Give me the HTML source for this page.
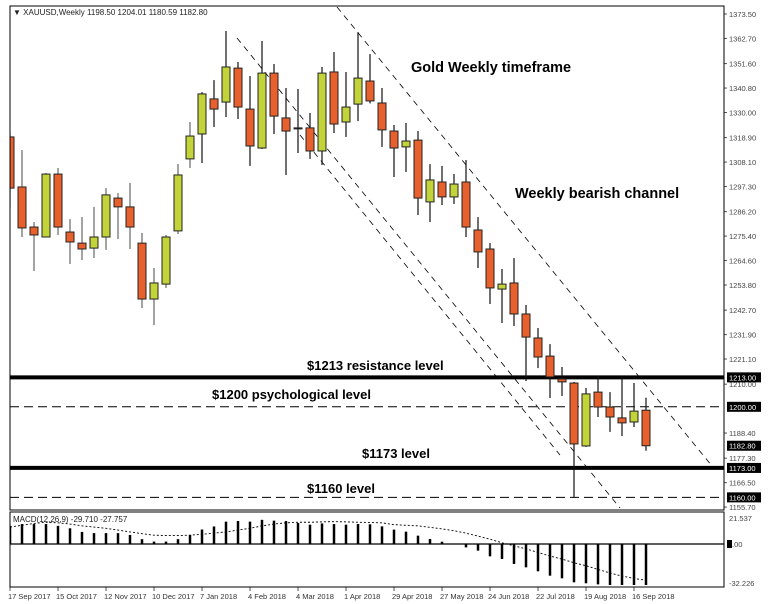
<!DOCTYPE html>
<html><head><meta charset="utf-8"><style>
html,body{margin:0;padding:0;background:#fff;width:770px;height:604px;overflow:hidden}
svg{display:block;font-family:"Liberation Sans",Arial,sans-serif}
</style></head><body>
<svg id="chart" width="770" height="604" viewBox="0 0 770 604" xmlns="http://www.w3.org/2000/svg">
<rect x="0" y="0" width="770" height="604" fill="#fff"/>
<defs><clipPath id="pclip"><rect x="10" y="6" width="714" height="504"/></clipPath><clipPath id="mclip"><rect x="10" y="512" width="714" height="75"/></clipPath></defs>
<g id="grid"></g>
<g id="price" clip-path="url(#pclip)"></g>
<g id="macd" clip-path="url(#mclip)"></g>
<g id="axes"></g>
<rect x="10" y="6" width="714" height="504" fill="none" stroke="#000" stroke-width="1"/>
<rect x="10" y="512" width="714" height="75" fill="none" stroke="#000" stroke-width="1"/>
<text x="13" y="15" font-size="8" fill="#222">▼ XAUUSD,Weekly  1198.50 1204.01 1180.59 1182.80</text>
<text x="13" y="522" font-size="8" fill="#222">MACD(12,26,9) -29.710 -27.757</text>
<text x="411" y="72" font-size="14.5" font-weight="bold" fill="#000">Gold Weekly timeframe</text>
<text x="515" y="198" font-size="14.5" font-weight="bold" fill="#000">Weekly bearish channel</text>
<text x="307" y="370" font-size="13" font-weight="bold" fill="#000">$1213 resistance level</text>
<text x="212" y="399" font-size="13" font-weight="bold" fill="#000">$1200 psychological level</text>
<text x="362" y="458" font-size="13" font-weight="bold" fill="#000">$1173 level</text>
<text x="307" y="493" font-size="13" font-weight="bold" fill="#000">$1160 level</text>
</svg>
<script>
const opens=[1319.2,1297.1,1279.4,1275.0,1302.8,1277.2,1272.3,1270.1,1275.0,1292.2,1288.3,1272.3,1247.6,1254.2,1277.7,1309.5,1320.5,1336.0,1334.6,1349.6,1331.5,1314.3,1347.4,1327.6,1323.2,1323.2,1313.0,1347.9,1325.8,1333.7,1343.9,1334.2,1321.8,1314.8,1317.8,1290.5,1299.3,1292.7,1299.3,1278.1,1269.7,1252.0,1254.7,1241.0,1230.4,1222.4,1212.3,1210.5,1182.7,1206.5,1199.9,1195.1,1193.3,1198.50];
const highs=[1321.4,1313.4,1281.6,1303.3,1305.5,1282.9,1283.8,1288.3,1296.6,1294.4,1298.9,1276.8,1261.3,1275.9,1307.2,1325.8,1339.0,1344.3,1366.0,1352.3,1346.1,1361.6,1351.4,1340.8,1340.4,1329.8,1350.1,1356.7,1347.9,1365.5,1355.8,1340.8,1324.5,1325.4,1321.8,1307.2,1306.4,1302.8,1309.0,1283.8,1272.3,1260.9,1265.7,1245.0,1234.8,1227.7,1217.6,1211.0,1208.3,1213.6,1206.5,1213.2,1210.5,1204.01];
const lows=[1287.8,1275.0,1260.0,1274.8,1275.9,1263.1,1264.8,1265.7,1269.3,1274.1,1269.7,1243.6,1236.1,1252.5,1276.3,1305.5,1307.7,1323.6,1328.0,1327.1,1306.4,1313.9,1320.5,1302.4,1312.1,1309.5,1306.8,1320.9,1319.2,1326.2,1334.0,1314.8,1301.5,1303.7,1284.7,1281.6,1289.1,1289.6,1275.0,1261.3,1245.4,1237.0,1235.7,1211.4,1217.1,1203.9,1204.8,1160.0,1182.3,1195.5,1188.9,1187.1,1191.1,1180.59];
const closes=[1296.6,1279.0,1275.9,1302.8,1279.4,1272.8,1269.7,1275.0,1293.6,1288.3,1279.4,1247.6,1254.7,1275.0,1302.4,1319.6,1338.2,1331.5,1350.1,1332.4,1315.2,1347.4,1328.4,1321.8,1323.0,1313.0,1347.4,1324.9,1332.4,1345.2,1335.1,1322.3,1314.3,1317.4,1292.2,1300.2,1292.7,1298.4,1279.4,1268.4,1252.5,1254.2,1241.0,1230.8,1222.0,1213.2,1211.0,1183.6,1205.7,1199.9,1195.5,1192.9,1198.1,1182.80];
const macdHist=[15,16.5,16.5,16.5,15,13,10,9,9,9,7.5,4,2,2,4,7.5,12,14.5,18.5,19,18.5,20,19.3,19,17.4,16,17,16.5,16,16.5,16.3,14.6,11.9,10.2,6.9,4.1,1.9,0,-2.8,-5.5,-10.2,-12.4,-16.5,-19.3,-22.6,-26.2,-28.4,-31.7,-32.5,-33.4,-33.9,-33.9,-33.9,-33.9];
const macdSignal=[14,15.5,17,18,17.5,16.5,15,14,13,11.5,10,8.5,7.3,7,7,7.3,8,9,10,11.5,13,15,16.5,17.5,18,18,18.3,18.5,18.3,18,17.8,17.5,16,15.5,15,13.8,12.5,11,9,6.5,4,1,-1.5,-4,-7,-10,-12.5,-15.5,-18,-21,-24,-26.5,-28.5,-30];
const priceTicks=[1373.50,1362.70,1351.60,1340.80,1330.00,1318.90,1308.10,1297.30,1286.20,1275.40,1264.60,1253.80,1242.70,1231.90,1221.10,1210.00,1188.40,1177.30,1166.50,1155.70];
const markedLevels=[1213.00,1200.00,1182.80,1173.00,1160.00];
const dateLabels=["17 Sep 2017","15 Oct 2017","12 Nov 2017","10 Dec 2017","7 Jan 2018","4 Feb 2018","4 Mar 2018","1 Apr 2018","29 Apr 2018","27 May 2018","24 Jun 2018","22 Jul 2018","19 Aug 2018","16 Sep 2018"];
const macdTicks=[21.537,-32.226];

const NS="http://www.w3.org/2000/svg";
const xOf=i=>10+12*i;
const yP=p=>14+(1373.5-p)*2.264;
const yM=v=>544-v*1.209;
function mk(tag,parent,attrs){const e=document.createElementNS(NS,tag);for(const k in attrs)e.setAttribute(k,attrs[k]);parent.appendChild(e);return e;}
const price=document.getElementById('price'),macd=document.getElementById('macd'),axes=document.getElementById('axes');

// horizontal levels
[[1213,4,null,'resistance-line-1213'],[1173,4,null,'support-line-1173'],[1200,1,'9,5','psychological-line-1200'],[1160,1,'9,5','level-line-1160']].forEach(l=>{
 const e=mk('line',price,{x1:10,x2:724,y1:yP(l[0]),y2:yP(l[0]),stroke:'#000','stroke-width':l[1]});
 if(l[2])e.setAttribute('stroke-dasharray',l[2]);
 
 
});
// channel lines
[[337,7,712,466,'channel-upper-line'],[237,38,620,508,'channel-lower-line'],[300,135,560,455,'channel-inner-line']].forEach(c=>{
 const e=mk('line',price,{x1:c[0],y1:c[1],x2:c[2],y2:c[3],stroke:'#000','stroke-width':0.8,'stroke-dasharray':'6,5'});
 
 
});
// candles
for(let i=0;i<opens.length;i++){
 const x=xOf(i),up=closes[i]>=opens[i];
 const w=mk('line',price,{x1:x,x2:x,y1:yP(highs[i]),y2:yP(lows[i]),stroke:i<16?'#666':'#111','stroke-width':1.2});
 
 
 const top=yP(Math.max(opens[i],closes[i])),bot=yP(Math.min(opens[i],closes[i]));
 const b=mk('rect',price,{x:x-4,y:top,width:8,height:Math.max(1,bot-top),fill:up?'#c3d43b':'#e8612c',stroke:'#222','stroke-width':1});
 
 
}
// macd
const zl=mk('line',macd,{x1:10,x2:724,y1:yM(0),y2:yM(0),stroke:'#000','stroke-width':1.3});


for(let i=0;i<macdHist.length;i++){
 const b=mk('line',macd,{x1:xOf(i),x2:xOf(i),y1:yM(0),y2:yM(macdHist[i]),stroke:'#000','stroke-width':2.5});
 
 
}
let pts=macdSignal.map((v,i)=>xOf(i)+','+yM(v)).join(' ');
const sl=mk('polyline',macd,{points:pts,fill:'none',stroke:'#000','stroke-width':0.9,'stroke-dasharray':'2,2'});


// price axis
priceTicks.forEach(p=>{
 const y=yP(p);
 const t=mk('line',axes,{x1:724,x2:727,y1:y,y2:y,stroke:'#555'});
 
 
 const tx=mk('text',axes,{x:729,y:y+3,'font-size':7.5,fill:'#444'});
 tx.textContent=p.toFixed(2);
 
 
});
markedLevels.forEach(p=>{
 const y=yP(p);
 const r=mk('rect',axes,{x:727,y:y-5,width:34,height:10,fill:'#000'});
 
 
 const tx=mk('text',axes,{x:729,y:y+3,'font-size':7.5,fill:'#fff'});
 tx.textContent=p.toFixed(2);
 
 
});
// macd axis
macdTicks.forEach(v=>{
 const tx=mk('text',axes,{x:729,y:yM(v)+3,'font-size':7.5,fill:'#444'});
 tx.textContent=v.toFixed(3);
 
 
});
const zr=mk('rect',axes,{x:727,y:yM(0)-4,width:5,height:8,fill:'#000'});


const zt=mk('text',axes,{x:732,y:yM(0)+3,'font-size':7.5,fill:'#444'});
zt.textContent='.00';


// date axis
dateLabels.forEach((d,k)=>{
 const x=xOf(k*4);
 const t=mk('line',axes,{x1:x,x2:x,y1:587,y2:591,stroke:'#555'});
 
 
 const tx=mk('text',axes,{x:x-2,y:599,'font-size':7.5,fill:'#333'});
 tx.textContent=d;
 
 
});
</script>
</body></html>
